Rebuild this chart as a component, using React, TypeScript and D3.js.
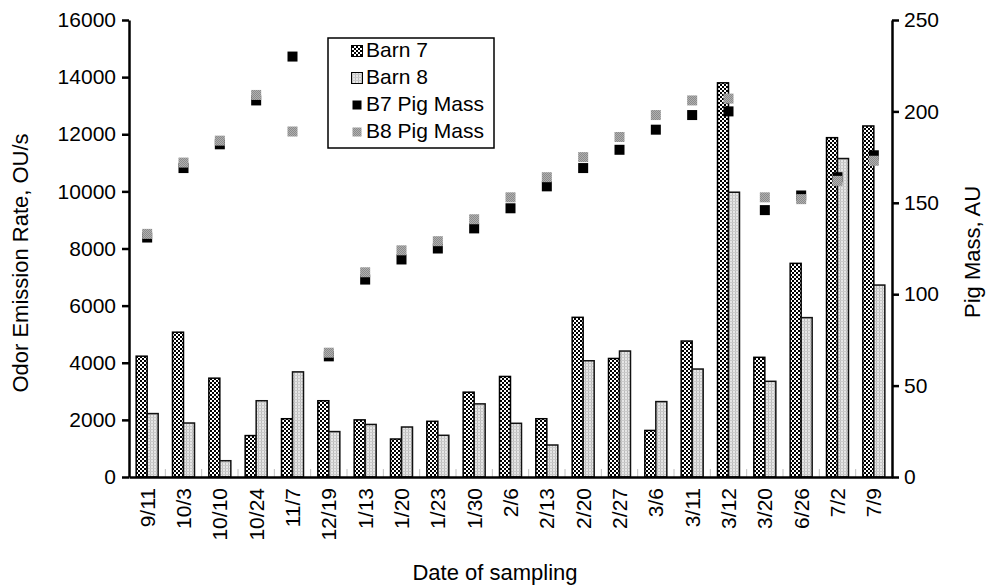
import React, { useRef, useEffect } from "react";
import * as d3 from "d3";

const categories = [
  "9/11", "10/3", "10/10", "10/24", "11/7", "12/19", "1/13", "1/20", "1/23", "1/30", "2/6",
  "2/13", "2/20", "2/27", "3/6", "3/11", "3/12", "3/20", "6/26", "7/2", "7/9",
];
const barn7 = [
  4230, 5070, 3460, 1450, 2040, 2670, 2000, 1330, 1950, 2970, 3520,
  2040, 5590, 4150, 1630, 4760, 13800, 4190, 7480, 11880, 12290,
];
const barn8 = [
  2220, 1890, 570, 2670, 3680, 1590, 1840, 1750, 1460, 2560, 1880,
  1120, 4070, 4410, 2640, 3780, 9970, 3350, 5580, 11150, 6720,
];
const b7Mass = [131, 169, 182, 206, 230, 66, 108, 119, 125, 136, 147, 159, 169, 179, 190, 198, 200, 146, 154, 164, 176];
const b8Mass = [133, 172, 184, 209, 189, 68, 112, 124, 129, 141, 153, 164, 175, 186, 198, 206, 207, 153, 152, 162, 173];
const leftTicks = [0, 2000, 4000, 6000, 8000, 10000, 12000, 14000, 16000];
const rightTicks = [0, 50, 100, 150, 200, 250];
const legendLabels = ["Barn 7", "Barn 8", "B7 Pig Mass", "B8 Pig Mass"];

const FONT = "'Liberation Sans', Arial, sans-serif";

export default function App() {
  const svgRef = useRef<SVGSVGElement>(null);
  const width = 987;
  const height = 586;

  useEffect(() => {
    if (!svgRef.current) return;
    const svg = d3.select(svgRef.current);
    svg.selectAll("*").remove();

    const plot = { left: 129, right: 892, top: 20, bottom: 477 };

    // patterns
    const defs = svg.append("defs");
    const checker = defs
      .append("pattern")
      .attr("id", "checker")
      .attr("width", 4)
      .attr("height", 4)
      .attr("patternUnits", "userSpaceOnUse");
    checker.append("rect").attr("width", 4).attr("height", 4).attr("fill", "#fff");
    checker.append("rect").attr("width", 2).attr("height", 2).attr("fill", "#000");
    checker.append("rect").attr("x", 2).attr("y", 2).attr("width", 2).attr("height", 2).attr("fill", "#000");

    const grid = defs
      .append("pattern")
      .attr("id", "grid")
      .attr("width", 3)
      .attr("height", 3)
      .attr("patternUnits", "userSpaceOnUse");
    grid.append("rect").attr("width", 3).attr("height", 3).attr("fill", "#e6e6e6");
    grid.append("rect").attr("width", 1).attr("height", 3).attr("fill", "#bcbcbc");
    grid.append("rect").attr("width", 3).attr("height", 1).attr("fill", "#cacaca");

    const stip = defs
      .append("pattern")
      .attr("id", "stip")
      .attr("width", 2)
      .attr("height", 2)
      .attr("patternUnits", "userSpaceOnUse");
    stip.append("rect").attr("width", 2).attr("height", 2).attr("fill", "#b0b0b0");
    stip.append("rect").attr("width", 1).attr("height", 1).attr("fill", "#8a8a8a");
    stip.append("rect").attr("x", 1).attr("y", 1).attr("width", 1).attr("height", 1).attr("fill", "#8a8a8a");

    // scales
    const x = d3.scaleBand<string>().domain(categories).range([plot.left, plot.right]).padding(0);
    const yL = d3.scaleLinear().domain([0, 16000]).range([plot.bottom, plot.top]);
    const yR = d3.scaleLinear().domain([0, 250]).range([plot.bottom, plot.top]);
    const barW = 11;

    // bars
    categories.forEach((c, i) => {
      const cx = (x(c) as number) + x.bandwidth() / 2;
      svg
        .append("rect")
        .attr("x", cx - barW)
        .attr("y", yL(barn7[i]))
        .attr("width", barW)
        .attr("height", yL(0) - yL(barn7[i]))
        .attr("fill", "url(#checker)")
        .attr("stroke", "#000")
        .attr("stroke-width", 1.5);
      svg
        .append("rect")
        .attr("x", cx)
        .attr("y", yL(barn8[i]))
        .attr("width", barW)
        .attr("height", yL(0) - yL(barn8[i]))
        .attr("fill", "url(#grid)")
        .attr("stroke", "#111")
        .attr("stroke-width", 1.5);
    });

    // light category ticks at the base
    categories.slice(1).forEach((c) => {
      const bx = x(c) as number;
      svg
        .append("line")
        .attr("x1", bx)
        .attr("x2", bx)
        .attr("y1", plot.bottom - 8)
        .attr("y2", plot.bottom)
        .attr("stroke", "#c0c0c0")
        .attr("stroke-width", 1);
    });

    // pig mass markers (B8 over B7)
    const m = 10;
    categories.forEach((c, i) => {
      const cx = (x(c) as number) + x.bandwidth() / 2;
      svg
        .append("rect")
        .attr("x", cx - m / 2)
        .attr("y", yR(b7Mass[i]) - m / 2)
        .attr("width", m)
        .attr("height", m)
        .attr("fill", "#000");
    });
    categories.forEach((c, i) => {
      const cx = (x(c) as number) + x.bandwidth() / 2;
      svg
        .append("rect")
        .attr("x", cx - m / 2)
        .attr("y", yR(b8Mass[i]) - m / 2)
        .attr("width", m)
        .attr("height", m)
        .attr("fill", "url(#stip)");
    });

    // left axis
    const gl = svg
      .append("g")
      .attr("transform", `translate(${plot.left},0)`)
      .call(
        d3.axisLeft(yL).tickValues(leftTicks).tickFormat(d3.format("d")).tickSize(7).tickSizeOuter(0).tickPadding(6)
      );
    // right axis
    const gr = svg
      .append("g")
      .attr("transform", `translate(${plot.right},0)`)
      .call(
        d3.axisRight(yR).tickValues(rightTicks).tickFormat(d3.format("d")).tickSize(7).tickSizeOuter(0).tickPadding(5)
      );
    [gl, gr].forEach((g) => {
      g.select(".domain").attr("stroke", "#000").attr("stroke-width", 2.5);
      g.selectAll(".tick line").attr("stroke", "#000").attr("stroke-width", 2.5);
      g.selectAll("text").style("font-family", FONT).style("font-size", "21px").attr("fill", "#000");
    });

    // bottom axis
    const gb = svg
      .append("g")
      .attr("transform", `translate(0,${plot.bottom})`)
      .call(d3.axisBottom(x).tickSize(0).tickSizeOuter(0));
    gb.select(".domain").attr("stroke", "#000").attr("stroke-width", 2.5);
    gb.selectAll("text")
      .attr("transform", "rotate(-90)")
      .attr("text-anchor", "end")
      .attr("x", -11)
      .attr("y", 0)
      .attr("dy", "0.35em")
      .style("font-family", FONT)
      .style("font-size", "21px")
      .attr("fill", "#000");

    // axis titles
    svg
      .append("text")
      .attr("transform", "translate(22,263) rotate(-90)")
      .attr("text-anchor", "middle")
      .attr("dominant-baseline", "middle")
      .style("font-family", FONT)
      .style("font-size", "22px")
      .text("Odor Emission Rate, OU/s");
    svg
      .append("text")
      .attr("transform", "translate(974,252) rotate(-90)")
      .attr("text-anchor", "middle")
      .attr("dominant-baseline", "middle")
      .style("font-family", FONT)
      .style("font-size", "22px")
      .text("Pig Mass, AU");
    svg
      .append("text")
      .attr("x", 495)
      .attr("y", 574)
      .attr("text-anchor", "middle")
      .attr("dominant-baseline", "middle")
      .style("font-family", FONT)
      .style("font-size", "22px")
      .text("Date of sampling");

    // legend
    const lg = svg.append("g").attr("transform", "translate(328,38)");
    lg.append("rect")
      .attr("width", 166)
      .attr("height", 110)
      .attr("fill", "#fff")
      .attr("stroke", "#000")
      .attr("stroke-width", 1.5);
    const fills = ["url(#checker)", "url(#grid)", "#000", "url(#stip)"];
    legendLabels.forEach((lab, i) => {
      const ry = 13 + i * 27;
      const s = i < 2 ? 11 : 9;
      lg.append("rect")
        .attr("x", 29 - s / 2)
        .attr("y", ry - s / 2)
        .attr("width", s)
        .attr("height", s)
        .attr("fill", fills[i])
        .attr("stroke", i < 2 ? "#000" : "none")
        .attr("stroke-width", 1);
      lg.append("text")
        .attr("x", 38)
        .attr("y", ry)
        .attr("dominant-baseline", "middle")
        .style("font-family", FONT)
        .style("font-size", "21px")
        .text(lab);
    });
  }, []);

  return (
    <svg
      ref={svgRef}
      width={width}
      height={height}
      viewBox={`0 0 ${width} ${height}`}
      style={{ position: "absolute", left: 0, top: 0, background: "#fff" }}
    />
  );
}
